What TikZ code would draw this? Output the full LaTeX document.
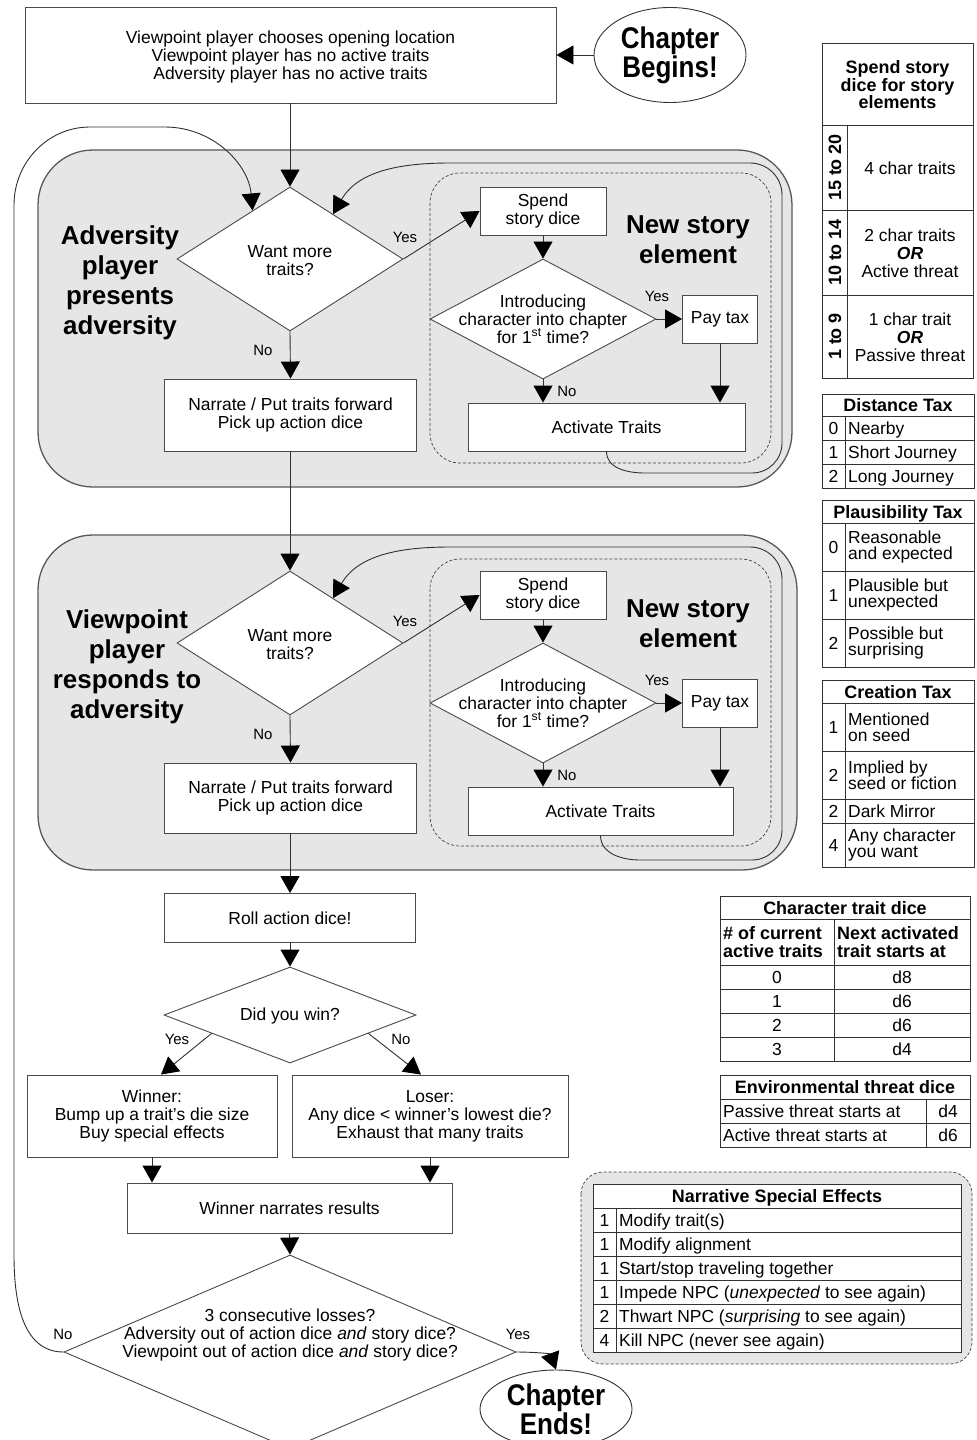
\documentclass[tikz,border=0pt]{standalone}
\usepackage{fontspec}
\setmainfont{Liberation Sans}
\newfontfamily\condfont{Liberation Sans}[FakeStretch=0.87]
\usetikzlibrary{shapes.geometric,arrows.meta,calc}
\definecolor{lc}{HTML}{303030}
\definecolor{bc}{HTML}{4A4A4A}
\definecolor{rg}{HTML}{E6E6E6}
\newcommand\bodyfont{\fontsize{17.5}{18}\selectfont}
\newcommand\tabfont{\fontsize{17.5}{16.5}\selectfont}
\newcommand\titlefont{\fontsize{26}{30}\selectfont\bfseries}
\newcommand\lblfont{\fontsize{15}{15}\selectfont}
\newcommand\hdrfont{\fontsize{18}{17.5}\selectfont\bfseries}
\newcommand\chapfont{\condfont\fontsize{30}{24}\selectfont\bfseries}
\begin{document}
\begin{tikzpicture}[x=1bp,y=-1bp,
  >={Triangle[length=17bp,width=19bp,color=black]},
  box/.style={draw=bc,fill=white,line width=0.9bp,inner sep=0,align=center,font=\bodyfont},
  dia/.style={diamond,draw=bc,fill=white,line width=0.9bp,inner sep=0},
  txt/.style={inner sep=0,align=center,font=\bodyfont},
  tt/.style={inner sep=0,align=left,font=\tabfont},
  tt1/.style={tt,text height=12.8bp,text depth=0bp},
  hd/.style={inner sep=0,align=center,font=\hdrfont},
  hd1/.style={hd,text height=13.2bp,text depth=0bp},
  lbl/.style={inner sep=0,font=\lblfont},
  ttl/.style={inner sep=0,align=center,font=\titlefont},
  conn/.style={draw=lc,line width=0.9bp},
  arr/.style={conn,->},
  region/.style={draw=black!65,fill=rg,line width=1.3bp,rounded corners=55bp},
  dregion/.style={draw=black!75,fill=rg,dash pattern=on 3bp off 2bp,line width=0.7bp,rounded corners=30bp},
  tb/.style={draw=black!80,line width=0.9bp},
  chap/.style={ellipse,draw=black!80,fill=white,inner sep=0,align=center,font=\chapfont,line width=0.9bp}]
\useasboundingbox (0,0) rectangle (976,1440);

% ---------- top ----------
\node[box,minimum width=531bp,minimum height=96bp] (start) at (290.5,55)
  {\rule{0pt}{16bp}Viewpoint player chooses opening location\\Viewpoint player has no active traits\\Adversity player has no active traits};
\node[chap,minimum width=152bp,minimum height=95bp] (begin) at (670,55) {Chapter\\Begins!};
\draw[arr] (begin.west) -- (start.east);

% ---------- region 1 ----------
\path[region] (38,150) rectangle (792,487);
\path[dregion] (430,173) rectangle (771,463);
\node[dia,minimum width=226bp,minimum height=144bp] (d1) at (290,259) {};
\node[txt] (d1t) at (290,261) {Want more\\traits?};
\node[ttl] (t1) at (120,283) {Adversity\\player\\presents\\adversity};
\node[box,minimum width=126bp,minimum height=48bp] (s1) at (543,211) {Spend\\story dice};
\node[ttl] (n1t) at (688,240) {New story\\element};
\node[dia,minimum width=226bp,minimum height=120bp] (q1) at (543,319) {};
\node[txt] (q1t) at (543,319) {Introducing\\character into chapter\\for 1\textsuperscript{st} time?};
\node[box,minimum width=75bp,minimum height=48bp] (p1) at (720,319) {Pay tax};
\node[box,minimum width=277bp,minimum height=48bp] (a1) at (606.5,427) {Activate Traits};
\node[box,minimum width=252bp,minimum height=72bp] (r1) at (290.5,415) {Narrate / Put traits forward\\Pick up action dice};
\node[lbl] (y1) at (405,237) {Yes};
\node[lbl] (n1) at (263,350) {No};
\node[lbl] (y2) at (657,296) {Yes};
\node[lbl] (n2) at (567,391) {No};
\draw[arr] (d1.north |- start.south) -- (d1.north);
\draw[arr] (d1.east) -- (s1.west);
\draw[arr] (d1.south) -- (r1.north);
\draw[arr] (s1.south) -- (q1.north);
\draw[arr] (q1.east) -- (p1.west);
\draw[arr] (q1.south) -- (q1.south |- a1.north);
\draw[arr] (p1.south) -- (p1.south |- a1.north);
\draw[arr] (a1.south) to[out=-90,in=180] (645,473) -- (752,473) to[out=0,in=-90] (782,443)
  -- (782,195) to[out=90,in=0] (750,163) -- (450,163) to[out=180,in=60] ($(d1.north)!0.38!(d1.east)$);

% ---------- region 2 ----------
\path[region] (38,535) rectangle (797,870);
\path[dregion] (430,559) rectangle (771,846);
\node[dia,minimum width=226bp,minimum height=144bp] (d3) at (290,643) {};
\node[txt] (d3t) at (290,645) {Want more\\traits?};
\node[ttl] (t2) at (127,667) {Viewpoint\\player\\responds to\\adversity};
\node[box,minimum width=126bp,minimum height=48bp] (s2) at (543,595) {Spend\\story dice};
\node[ttl] (n2t) at (688,624) {New story\\element};
\node[dia,minimum width=226bp,minimum height=120bp] (q2) at (543,703) {};
\node[txt] (q2t) at (543,703) {Introducing\\character into chapter\\for 1\textsuperscript{st} time?};
\node[box,minimum width=75bp,minimum height=48bp] (p2) at (720,703) {Pay tax};
\node[box,minimum width=265bp,minimum height=48bp] (a2) at (600.5,811) {Activate Traits};
\node[box,minimum width=252bp,minimum height=70bp] (r2) at (290.5,798) {Narrate / Put traits forward\\Pick up action dice};
\node[lbl] (y3) at (405,621) {Yes};
\node[lbl] (n3) at (263,734) {No};
\node[lbl] (y4) at (657,680) {Yes};
\node[lbl] (n4) at (567,775) {No};
\draw[arr] (d3.north |- r1.south) -- (d3.north);
\draw[arr] (d3.east) -- (s2.west);
\draw[arr] (d3.south) -- (r2.north);
\draw[arr] (s2.south) -- (q2.north);
\draw[arr] (q2.east) -- (p2.west);
\draw[arr] (q2.south) -- (q2.south |- a2.north);
\draw[arr] (p2.south) -- (p2.south |- a2.north);
\draw[arr] (a2.south) to[out=-90,in=180] (640,860) -- (752,860) to[out=0,in=-90] (782,830)
  -- (782,579) to[out=90,in=0] (750,547) -- (450,547) to[out=180,in=60] ($(d3.north)!0.38!(d3.east)$);

% ---------- lower flow ----------
\node[box,minimum width=251bp,minimum height=49bp] (roll) at (290,918) {Roll action dice!};
\draw[arr] (roll.north |- r2.south) -- (roll.north);
\node[dia,minimum width=252bp,minimum height=96bp] (win) at (290,1015) {};
\node[txt] (wint) at (290,1016) {Did you win?};
\draw[arr] (roll.south) -- (win.north);
\node[box,minimum width=250bp,minimum height=82bp] (wbox) at (152,1116)
  {Winner:\\Bump up a trait's die size\\Buy special effects};
\node[box,minimum width=276bp,minimum height=82bp] (lbox) at (430,1116)
  {Loser:\\Any dice < winner's lowest die?\\Exhaust that many traits};
\draw[arr] ($(win.west)!0.38!(win.south)$) -- ($(wbox.north)+(9,0)$);
\draw[arr] ($(win.east)!0.38!(win.south)$) -- ($(lbox.north)+(-9,0)$);
\node[lbl] (y5) at (177,1039) {Yes};
\node[lbl] (n5) at (401,1039) {No};
\node[box,minimum width=325bp,minimum height=50bp] (wn) at (289.5,1208) {Winner narrates results};
\draw[arr] (wbox.south) -- (wbox.south |- wn.north);
\draw[arr] (lbox.south) -- (lbox.south |- wn.north);
\node[dia,minimum width=452bp,minimum height=194bp] (fin) at (290,1352) {};
\node[txt] (fint) at (290,1335) {3 consecutive losses?\\Adversity out of action dice \textit{and} story dice?\\Viewpoint out of action dice \textit{and} story dice?};
\draw[arr] (wn.south) -- (fin.north);
\node[lbl] (n6) at (63,1334) {No};
\node[lbl] (y6) at (518,1334) {Yes};
\node[chap,minimum width=152bp,minimum height=78bp] (ends) at (556,1409) {Chapter\\Ends!};
\draw[arr] (fin.east) to[out=0,in=110] (ends.north);
\draw[arr] (fin.west) to[out=180,in=-90] (14,1255) -- (14,205) to[out=90,in=180] (90,127)
  -- (165,127) to[out=0,in=95] ($(d1.north)!0.33!(d1.west)$);

% ---------- table: spend story dice ----------
\draw[tb] (822,43) rectangle (973,378);
\draw[tb] (822,125) -- (973,125) (822,210) -- (973,210) (822,295) -- (973,295) (847,125) -- (847,378);
\node[hd] (sh) at (897.5,85) {Spend story\\dice for story\\elements};
\node[hd1,rotate=90] (sa) at (834.5,167.5) {15 to 20};
\node[hd1,rotate=90] (sb) at (834.5,252.5) {10 to 14};
\node[hd1,rotate=90] (sc) at (834.5,336.5) {1 to 9};
\node[txt] (sr1) at (910,168) {4 char traits};
\node[txt] (sr2) at (910,253) {2 char traits\\\textbf{\textit{OR}}\\Active threat};
\node[txt] (sr3) at (910,337) {1 char trait\\\textbf{\textit{OR}}\\Passive threat};

% ---------- distance tax ----------
\draw[tb] (822,394) rectangle (974,488);
\draw[tb] (822,416) -- (974,416) (822,440) -- (974,440) (822,464) -- (974,464) (845,416) -- (845,488);
\node[hd1] (dh) at (898,405) {Distance Tax};
\node[tt1] (dn0) at (833.5,428) {0}; \node[tt1,anchor=west] (dt0) at (848,428) {Nearby};
\node[tt1] (dn1) at (833.5,452) {1}; \node[tt1,anchor=west] (dt1) at (848,452) {Short Journey};
\node[tt1] (dn2) at (833.5,476) {2}; \node[tt1,anchor=west] (dt2) at (848,476) {Long Journey};

% ---------- plausibility tax ----------
\draw[tb] (822,500) rectangle (974,667);
\draw[tb] (822,523) -- (974,523) (822,571) -- (974,571) (822,619) -- (974,619) (845,523) -- (845,667);
\node[hd1] (ph) at (898,511.5) {Plausibility Tax};
\node[tt1] (pn0) at (833.5,547) {0}; \node[tt,anchor=west] (pt0) at (848,547) {Reasonable\\and expected};
\node[tt1] (pn1) at (833.5,595) {1}; \node[tt,anchor=west] (pt1) at (848,595) {Plausible but\\unexpected};
\node[tt1] (pn2) at (833.5,643) {2}; \node[tt,anchor=west] (pt2) at (848,643) {Possible but\\surprising};

% ---------- creation tax ----------
\draw[tb] (822,680) rectangle (974,867);
\draw[tb] (822,703) -- (974,703) (822,751) -- (974,751) (822,799) -- (974,799) (822,823) -- (974,823) (845,703) -- (845,867);
\node[hd1] (ch) at (898,691.5) {Creation Tax};
\node[tt1] (cn0) at (833.5,727) {1}; \node[tt,anchor=west] (ct0) at (848,727) {Mentioned\\on seed};
\node[tt1] (cn1) at (833.5,775) {2}; \node[tt,anchor=west] (ct1) at (848,775) {Implied by\\seed or fiction};
\node[tt1] (cn2) at (833.5,811) {2}; \node[tt1,anchor=west] (ct2) at (848,811) {Dark Mirror};
\node[tt1] (cn3) at (833.5,845) {4}; \node[tt,anchor=west] (ct3) at (848,845) {Any character\\you want};

% ---------- character trait dice ----------
\draw[tb] (720,896) rectangle (970,1061);
\draw[tb] (720,919) -- (970,919) (720,965) -- (970,965) (720,989) -- (970,989) (720,1013) -- (970,1013) (720,1037) -- (970,1037) (834,919) -- (834,1061);
\node[hd1] (kh) at (845,907.5) {Character trait dice};
\node[hd,anchor=west,align=left] (ka) at (723,942) {\# of current\\active traits};
\node[hd,anchor=west,align=left] (kb) at (837,942) {Next activated\\trait starts at};
\node[tt1] (k0a) at (777,977) {0}; \node[tt1] (k0b) at (902,977) {d8};
\node[tt1] (k1a) at (777,1001) {1}; \node[tt1] (k1b) at (902,1001) {d6};
\node[tt1] (k2a) at (777,1025) {2}; \node[tt1] (k2b) at (902,1025) {d6};
\node[tt1] (k3a) at (777,1049) {3}; \node[tt1] (k3b) at (902,1049) {d4};

% ---------- environmental threat dice ----------
\draw[tb] (720,1075) rectangle (970,1147);
\draw[tb] (720,1099) -- (970,1099) (720,1123) -- (970,1123) (926,1099) -- (926,1147);
\node[hd1] (eh) at (845,1087) {Environmental threat dice};
\node[tt1,anchor=west] (e1) at (723,1111) {Passive threat starts at}; \node[tt1] (e1d) at (948,1111) {d4};
\node[tt1,anchor=west] (e2) at (723,1135) {Active threat starts at}; \node[tt1] (e2d) at (948,1135) {d6};

% ---------- narrative special effects ----------
\path[dregion,rounded corners=22bp] (581,1172) rectangle (972,1364);
\path[fill=white] (593,1184) rectangle (961,1352);
\draw[tb] (593,1184) rectangle (961,1352);
\draw[tb] (593,1208) -- (961,1208) (593,1232) -- (961,1232) (593,1256) -- (961,1256) (593,1280) -- (961,1280) (593,1304) -- (961,1304) (593,1328) -- (961,1328) (616,1208) -- (616,1352);
\node[hd1] (xh) at (777,1196) {Narrative Special Effects};
\node[tt1] (x1n) at (604.5,1220) {1}; \node[tt1,anchor=west] (x1) at (619,1220) {Modify trait(s)};
\node[tt1] (x2n) at (604.5,1244) {1}; \node[tt1,anchor=west] (x2) at (619,1244) {Modify alignment};
\node[tt1] (x3n) at (604.5,1268) {1}; \node[tt1,anchor=west] (x3) at (619,1268) {Start/stop traveling together};
\node[tt1] (x4n) at (604.5,1292) {1}; \node[tt1,anchor=west] (x4) at (619,1292) {Impede NPC (\textit{unexpected} to see again)};
\node[tt1] (x5n) at (604.5,1316) {2}; \node[tt1,anchor=west] (x5) at (619,1316) {Thwart NPC (\textit{surprising} to see again)};
\node[tt1] (x6n) at (604.5,1340) {4}; \node[tt1,anchor=west] (x6) at (619,1340) {Kill NPC (never see again)};
\end{tikzpicture}
\end{document}
